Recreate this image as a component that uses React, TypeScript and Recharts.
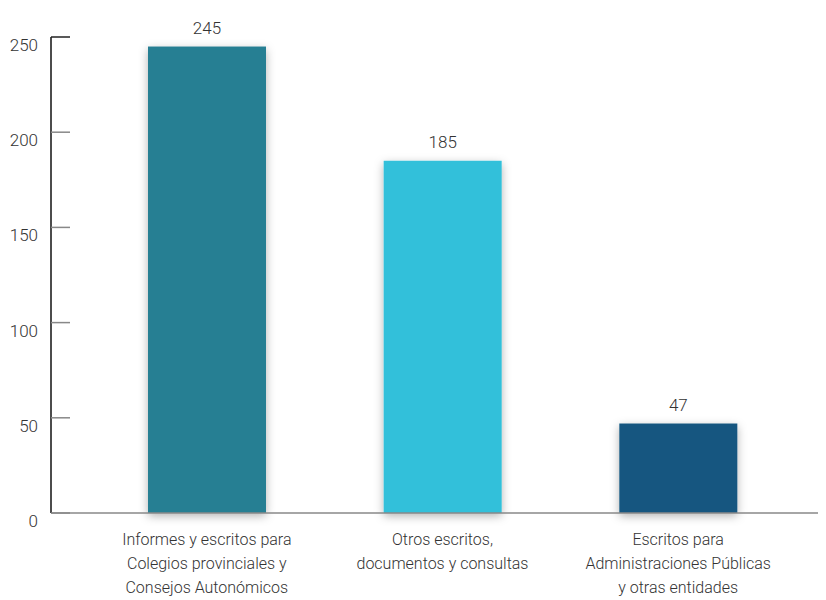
import React from 'react';
import { BarChart, Bar, XAxis, YAxis, LabelList, Cell } from 'recharts';

const categories = [
  ['Informes y escritos para', 'Colegios provinciales y', 'Consejos Autonómicos'],
  ['Otros escritos,', 'documentos y consultas'],
  ['Escritos para', 'Administraciones Públicas', 'y otras entidades'],
];
const values = [245, 185, 47];
const colors = ['#287f93', '#31c0da', '#125680'];
const yTicks = [0, 50, 100, 150, 200, 250];

const data = categories.map((c, i) => ({ name: c.join('|'), value: values[i] }));

const FONT = "Roboto, 'Noto Sans', sans-serif";

const XTick = (props: any) => {
  const { x, y, payload } = props;
  const lines = String(payload.value).split('|');
  return (
    <g>
      {lines.map((l, i) => (
        <text key={i} x={x} y={y + 32 + i * 24} textAnchor="middle" fontSize={16} fontWeight={300} fill="#333" fontFamily={FONT}>
          {l}
        </text>
      ))}
    </g>
  );
};

const YTick = (props: any) => {
  const { x, y, payload } = props;
  const top = payload.value === 250;
  return (
    <g>
      <line x1={x} x2={x + 19} y1={y} y2={y} stroke={top ? '#222' : '#888'} strokeWidth={1.5} />
      <text x={x - 13} y={y + 14} textAnchor="end" fontSize={17} fontWeight={300} fill="#333" fontFamily={FONT}>
        {payload.value}
      </text>
    </g>
  );
};

const ShadowBar = (props: any) => {
  const { x, y, width, height, fill } = props;
  return <rect x={x} y={y} width={width} height={height} fill={fill} filter="url(#barShadow)" />;
};

export default function App() {
  return (
    <div style={{ width: 818, overflow: 'hidden' }}>
      <BarChart width={826} height={592} data={data} margin={{ top: 29, right: 0, bottom: 0, left: 0 }}>
        <defs>
          <filter id="barShadow" x="-30%" y="-30%" width="160%" height="160%">
            <feDropShadow dx="0" dy="3" stdDeviation="5" floodColor="#000" floodOpacity="0.3" />
          </filter>
        </defs>
        <XAxis
          dataKey="name"
          interval={0}
          padding={{ left: 38, right: 38 }}
          height={87}
          tickSize={0}
          tickMargin={0}
          tick={<XTick />}
          axisLine={{ stroke: '#888', strokeWidth: 1.5 }}
          tickLine={false}
        />
        <YAxis
          domain={[0, 250]}
          ticks={yTicks}
          width={43}
          tickSize={0}
          tickMargin={0}
          tick={<YTick />}
          axisLine={{ stroke: '#111', strokeWidth: 1.5 }}
          tickLine={false}
        />
        <Bar dataKey="value" barSize={118} isAnimationActive={false} shape={<ShadowBar />}>
          {data.map((d, i) => (
            <Cell key={i} fill={colors[i]} />
          ))}
          <LabelList dataKey="value" position="top" offset={13} fontSize={17} fontWeight={300} fill="#333" fontFamily={FONT} />
        </Bar>
      </BarChart>
    </div>
  );
}
